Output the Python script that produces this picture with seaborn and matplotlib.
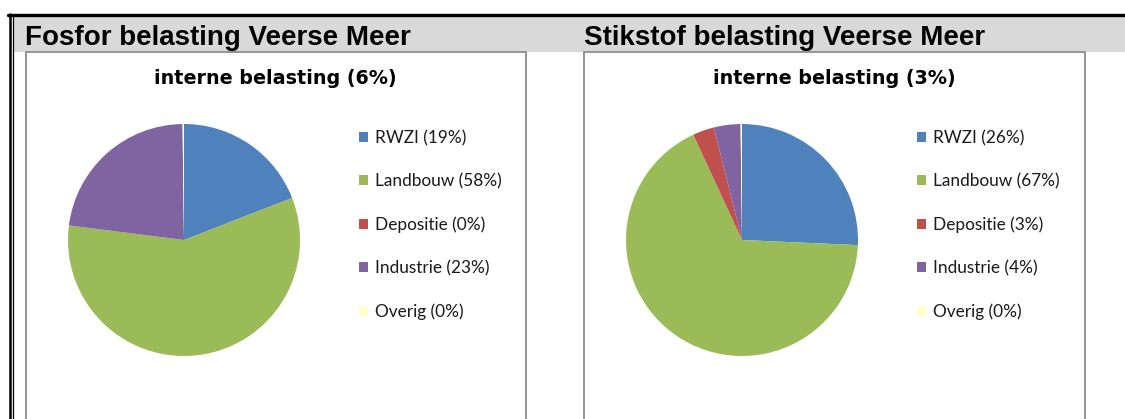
import matplotlib
matplotlib.use("Agg")
import matplotlib.pyplot as plt
from matplotlib.patches import Rectangle
from matplotlib.lines import Line2D
import seaborn as sns

# ---------------- data ----------------
categories = ["RWZI", "Landbouw", "Depositie", "Industrie", "Overig"]
fosfor_values = [19.1, 57.9, 0.0, 22.8, 0.2]
stikstof_values = [25.7, 67.4, 3.0, 3.7, 0.2]
panel_titles = ["Fosfor belasting Veerse Meer", "Stikstof belasting Veerse Meer"]
interne_pct = [6, 3]
colors = ["#4F81BD", "#9BBB59", "#C0504D", "#8064A2", "#FFFFCC"]

sns.set_theme(style="white")
plt.rcParams["font.family"] = ["Lato", "DejaVu Sans"]
plt.rcParams["text.color"] = "black"

W, H = 1125, 419
fig = plt.figure(figsize=(W / 100, H / 100), dpi=100)
fig.patch.set_facecolor("white")


def fx(px):
    return px / W


def fy(py):
    return 1 - py / H


# header band
fig.patches.append(Rectangle((fx(13), fy(52)), fx(W - 13), (52 - 17) / H,
                             transform=fig.transFigure, facecolor="#D9D9D9",
                             edgecolor="none", zorder=0))
# top black rule
fig.add_artist(Line2D([fx(8), 1], [fy(15.5), fy(15.5)], color="black", lw=2.4,
                      transform=fig.transFigure))
# left double rule
fig.add_artist(Line2D([fx(10), fx(10)], [fy(14), 0], color="black", lw=1.8,
                      transform=fig.transFigure))
fig.add_artist(Line2D([fx(12.8), fx(12.8)], [fy(17), 0], color="black", lw=0.9,
                      transform=fig.transFigure))

box_lefts = [25.5, 584]
box_width = 500.5
pie_centers = [184, 742]
radius_px = 116
datasets = [fosfor_values, stikstof_values]

for i in range(2):
    bl = box_lefts[i]
    # chart box border
    fig.patches.append(Rectangle((fx(bl), fy(H + 5)), fx(box_width), (H + 5 - 52) / H,
                                 transform=fig.transFigure, facecolor="white",
                                 edgecolor="#8C8C8C", lw=1.3, zorder=1))
    # panel title
    fig.text(fx(bl - 0.5), fy(38), panel_titles[i], fontsize=20, fontweight="bold",
             color="black", family=["Liberation Sans", "DejaVu Sans"],
             ha="left", va="center", zorder=3)
    # chart title
    fig.text(fx(bl + box_width / 2), fy(78), f"interne belasting ({interne_pct[i]}%)",
             fontsize=13.8, fontweight="bold", color="black", family=["DejaVu Sans"],
             ha="center", va="center", zorder=3)

    cx = pie_centers[i]
    ax = fig.add_axes([fx(cx - radius_px), fy(240 + radius_px),
                       2 * radius_px / W, 2 * radius_px / H])
    vals = datasets[i]
    wedges, _ = ax.pie(vals, colors=colors, startangle=90, counterclock=False,
                       radius=1, wedgeprops=dict(edgecolor="none", linewidth=0))
    ax.set_xlim(-1.0, 1.0)
    ax.set_ylim(-1.0, 1.0)
    ax.set_zorder(2)
    labels = [f"{c} ({round(v):.0f}%)" for c, v in zip(categories, vals)]
    leg = ax.legend(wedges, labels, loc="upper left",
                    bbox_to_anchor=(fx(cx + 175), fy(130)), bbox_transform=fig.transFigure,
                    frameon=False, fontsize=12.4, handlelength=0.52, handleheight=0.52,
                    handletextpad=0.4, labelspacing=1.57, borderpad=0, borderaxespad=0)
    for t in leg.get_texts():
        t.set_color("#1a1a1a")

fig.savefig("out.png", dpi=100)
